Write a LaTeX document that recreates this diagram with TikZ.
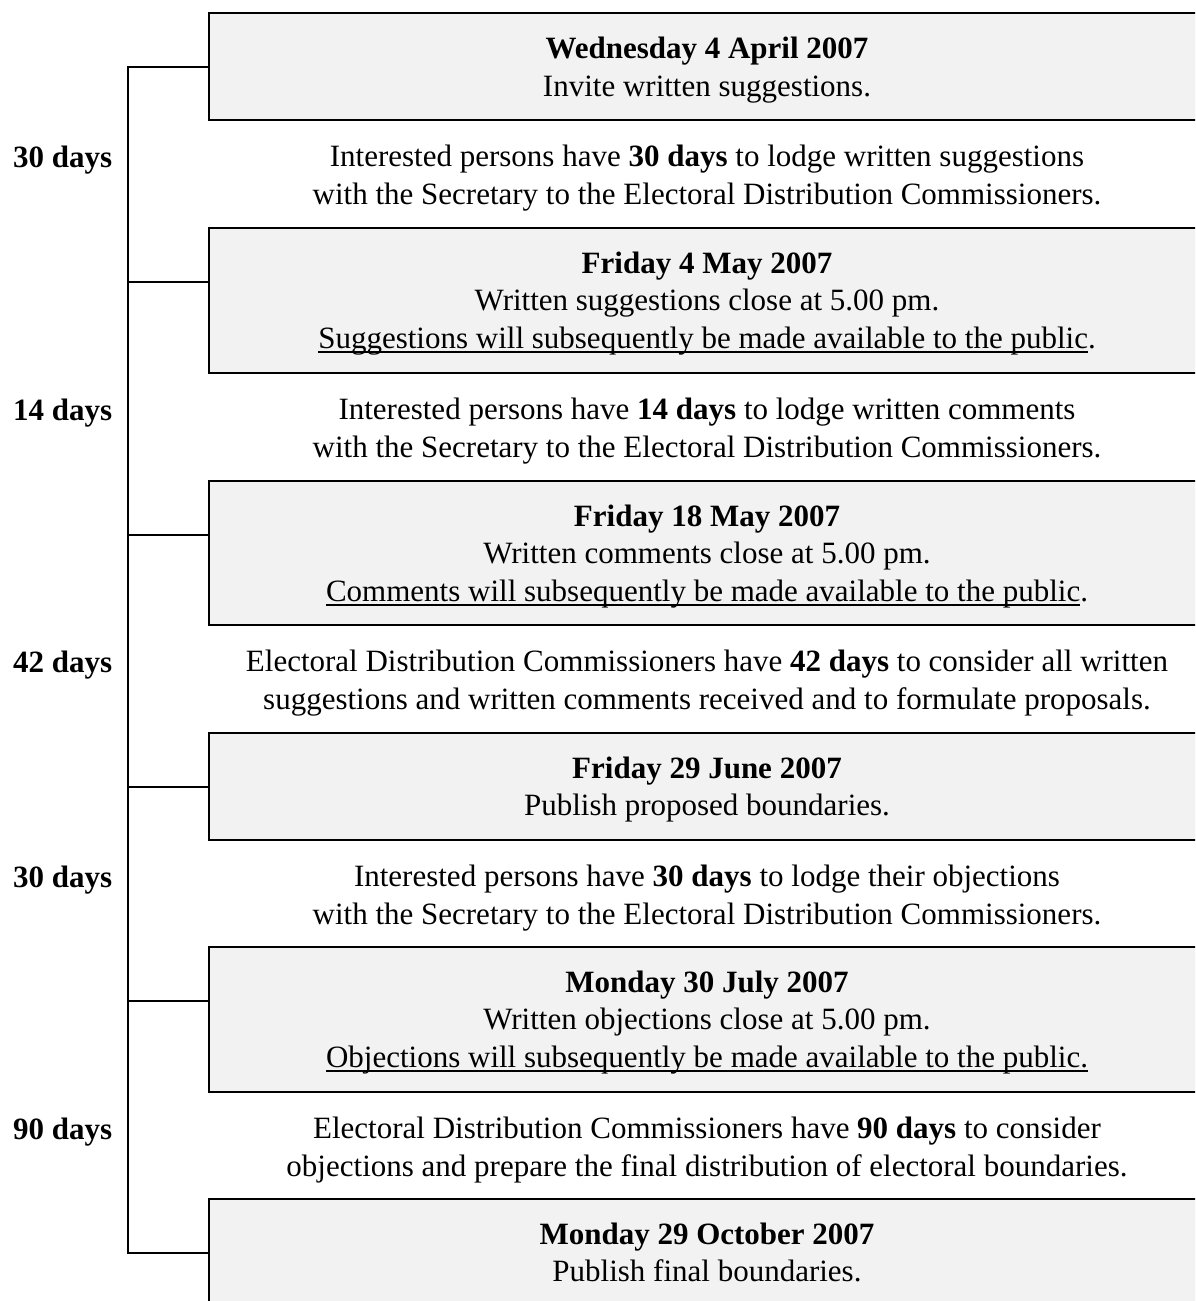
\documentclass[tikz,border=0pt]{standalone}
\usepackage{fontspec}
\setmainfont{Liberation Serif}
\definecolor{boxfill}{RGB}{242,242,242}
\newcommand{\myul}[1]{\setbox0\hbox{#1}\rlap{\rule[-4.5pt]{\wd0}{1.5pt}}\box0}
\begin{document}
\begin{tikzpicture}[x=1pt,y=-1pt,
  datebox/.style={draw=black, line width=2.5pt, fill=boxfill, minimum width=996pt,
    inner sep=0pt, outer sep=0pt, anchor=north west},
  txt/.style={align=center, font=\fontsize{31}{37.5}\selectfont, inner sep=0pt,
    execute at begin node={\rule{0pt}{22pt}}, execute at end node={\rule[-8pt]{0pt}{8pt}}},
  days/.style={font=\fontsize{31}{37.5}\selectfont\bfseries, anchor=base west, inner sep=0pt},
  bracket/.style={line width=2pt}]
\useasboundingbox (0,0) rectangle (1195,1301);
\clip (0,0) rectangle (1195,1301);

% boxes
\node[datebox, minimum height=107pt] (b1) at (209,13) {};
\node[datebox, minimum height=145pt] (b2) at (209,228) {};
\node[datebox, minimum height=144pt] (b3) at (209,481) {};
\node[datebox, minimum height=107pt] (b4) at (209,733) {};
\node[datebox, minimum height=145pt] (b5) at (209,947) {};
\node[datebox, minimum height=160pt] (b6) at (209,1199) {};

% box texts
\node[txt] (t1) at (707,70.5) {\textbf{Wednesday 4 April 2007}\\Invite written suggestions.};
\node[txt] (t2) at (707,304) {\textbf{Friday 4 May 2007}\\Written suggestions close at 5.00 pm.\\\myul{Suggestions will subsequently be made available to the public}.};
\node[txt] (t3) at (707,557) {\textbf{Friday 18 May 2007}\\Written comments close at 5.00 pm.\\\myul{Comments will subsequently be made available to the public}.};
\node[txt] (t4) at (707,790.25) {\textbf{Friday 29 June 2007}\\Publish proposed boundaries.};
\node[txt] (t5) at (707,1023) {\textbf{Monday 30 July 2007}\\Written objections close at 5.00 pm.\\\myul{Objections will subsequently be made available to the public.}};
\node[txt] (t6) at (707,1256) {\textbf{Monday 29 October 2007}\\Publish final boundaries.};

% middle texts
\node[txt] (m1) at (707,178.5) {Interested persons have \textbf{30 days} to lodge written suggestions\\with the Secretary to the Electoral Distribution Commissioners.};
\node[txt] (m2) at (707,431.5) {Interested persons have \textbf{14 days} to lodge written comments\\with the Secretary to the Electoral Distribution Commissioners.};
\node[txt] (m3) at (707,683.5) {Electoral Distribution Commissioners have \textbf{42 days} to consider all written\\suggestions and written comments received and to formulate proposals.};
\node[txt] (m4) at (707,898.5) {Interested persons have \textbf{30 days} to lodge their objections\\with the Secretary to the Electoral Distribution Commissioners.};
\node[txt] (m5) at (707,1150.5) {Electoral Distribution Commissioners have \textbf{90 days} to consider\\objections and prepare the final distribution of electoral boundaries.};

% day labels
\node[days] (d1) at (13,167) {30 days};
\node[days] (d2) at (13,420) {14 days};
\node[days] (d3) at (13,672) {42 days};
\node[days] (d4) at (13,887) {30 days};
\node[days] (d5) at (13,1139) {90 days};

% brackets
\foreach \a/\b in {b1/b2,b2/b3,b3/b4,b4/b5,b5/b6}
  \draw[bracket] ([yshift=-54pt]\a.north west) -| ([xshift=-81pt,yshift=-54pt]\b.north west) -- ([yshift=-54pt]\b.north west);
\end{tikzpicture}
\end{document}
